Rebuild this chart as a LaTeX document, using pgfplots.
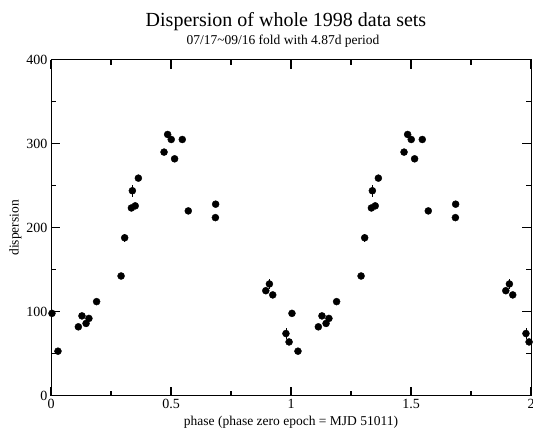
\documentclass[border=0pt]{standalone}
\usepackage{pgfplots}
\pgfplotsset{compat=1.18}
\usepackage{pgfplotstable}
\usetikzlibrary{calc}
\usepackage{fontspec}
\setmainfont{Liberation Serif}
\pgfplotstableread{
x y e
0.004 98 2
0.029 53 2
0.114 82 2
0.129 95 3
0.146 86 4
0.158 92 4
0.190 112 2
0.292 142.5 2
0.307 188 5
0.335 223.5 3
0.339 244 7
0.351 226 3
0.364 259 3
0.471 290 2
0.486 311 2
0.501 305 2
0.515 282 2
0.547 305 2
0.572 220 2
0.686 228 3
0.685 212 2
0.895 125 2
0.910 133 6
0.924 120 2
0.979 74 6
0.992 64 2
}\datatab
\begin{document}
\begin{tikzpicture}
\begin{axis}[
  name=ax,
  at={(51pt,32.3pt)}, anchor=south west,
  scale only axis, width=480pt, height=336pt,
  xmin=0, xmax=2, ymin=0, ymax=400,
  xtick={0,0.5,1,1.5,2}, minor xtick={0.25,0.75,1.25,1.75},
  ytick={0,100,200,300,400}, minor ytick={50,150,250,350},
  major tick length=9pt,
  tick style={line width=1.4pt, black},
  axis line style={line width=1pt},
  ticklabel style={font=\fontsize{14}{16}\selectfont},
  /pgf/number format/assume math mode=true,
]
\addplot[only marks, mark=*, mark size=3.5pt, black,
  error bars/.cd, y dir=both, y explicit, error mark=none,
  error bar style={line width=0.9pt}]
  table[x=x, y=y, y error=e] {\datatab};
\addplot[only marks, mark=*, mark size=3.5pt, black,
  error bars/.cd, y dir=both, y explicit, error mark=none,
  error bar style={line width=0.9pt}]
  table[x expr=\thisrow{x}+1, y=y, y error=e] {\datatab};
\end{axis}
\foreach \f in {0.25,0.5,0.75} {
  \draw[line width=1.4pt, black] ($(ax.south west)!\f!(ax.south east)$) -- ++(0,9pt);
  \draw[line width=1.4pt, black] ($(ax.north west)!\f!(ax.north east)$) -- ++(0,-9pt);
  \draw[line width=1.4pt, black] ($(ax.south west)!\f!(ax.north west)$) -- ++(9pt,0);
  \draw[line width=1.4pt, black] ($(ax.south east)!\f!(ax.north east)$) -- ++(-9pt,0);
}
\foreach \f in {0.125,0.375,0.625,0.875} {
  \draw[line width=1.4pt, black] ($(ax.south west)!\f!(ax.south east)$) -- ++(0,5pt);
  \draw[line width=1.4pt, black] ($(ax.north west)!\f!(ax.north east)$) -- ++(0,-5pt);
  \draw[line width=1.4pt, black] ($(ax.south west)!\f!(ax.north west)$) -- ++(5pt,0);
  \draw[line width=1.4pt, black] ($(ax.south east)!\f!(ax.north east)$) -- ++(-5pt,0);
}
\node[anchor=base, font=\fontsize{20}{24}\selectfont] at (286pt,401pt) {Dispersion of whole 1998 data sets};
\node[anchor=base, font=\fontsize{13.5}{16}\selectfont] at (283pt,383pt) {07/17\char`~09/16 fold with 4.87d period};
\node[anchor=base, font=\fontsize{13.5}{16}\selectfont] at (291pt,2.5pt) {phase (phase zero epoch = MJD 51011)};
\node[anchor=base, rotate=90, font=\fontsize{13.5}{16}\selectfont] at (18.5pt,200pt) {dispersion};
\pgfresetboundingbox
\path[use as bounding box] (0pt,0pt) rectangle (533pt,428pt);
\end{tikzpicture}
\end{document}
